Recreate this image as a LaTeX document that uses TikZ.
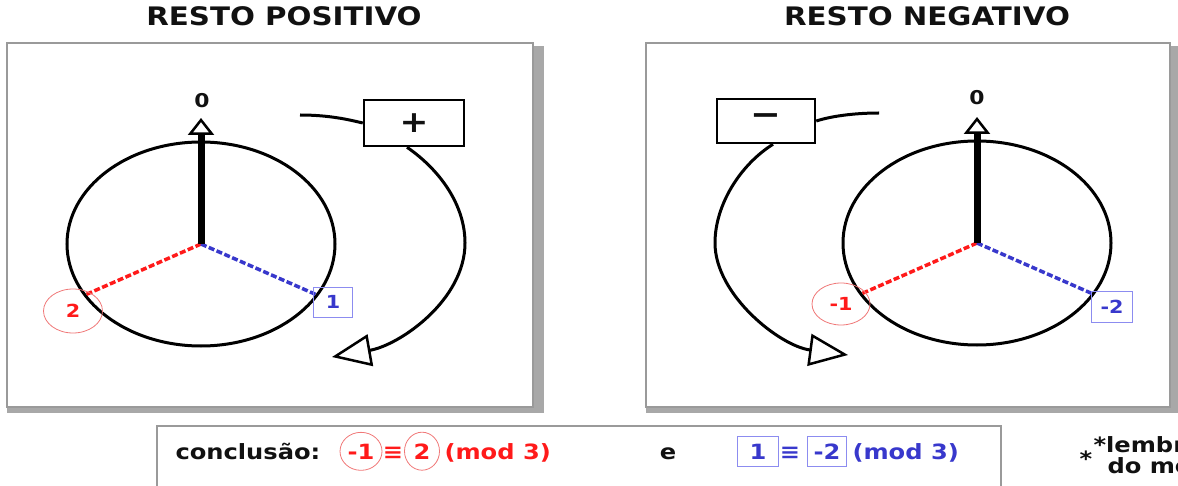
\documentclass[tikz,border=0pt]{standalone}
\usepackage{fontspec}
\newfontfamily\vfont[FakeStretch=1.15]{DejaVu Sans}
\usetikzlibrary{positioning, shapes.geometric, arrows.meta, calc}
\definecolor{rsred}{HTML}{FF1A1A}
\definecolor{rsredline}{HTML}{F07878}
\definecolor{rsblue}{HTML}{3838CC}
\definecolor{rsblueline}{HTML}{8C8CF0}
\definecolor{rsframe}{HTML}{9A9A9A}
\definecolor{rsshadow}{HTML}{A8A8A8}
\definecolor{rsink}{HTML}{111111}
\newcommand\fsz[1]{\fontsize{#1}{#1}\selectfont}

\begin{document}
\begin{tikzpicture}[x=1pt, y=-1pt, font=\vfont\bfseries, text=rsink,
    panel/.style={draw=rsframe, line width=1.2pt, fill=white},
    ring/.style={line width=3pt},
    hand/.style={line width=7pt, -{Triangle[open, length=17pt, width=26pt, line width=2.5pt]}},
    loopline/.style={line width=3pt, -{Triangle[open, length=39pt, width=32pt, line width=2.5pt]}},
    signbox/.style={draw, line width=2.5pt, minimum width=100pt, minimum height=46pt, inner sep=0pt},
    redspoke/.style={rsred, line width=3.5pt, dash pattern=on 6pt off 2.5pt},
    bluespoke/.style={rsblue, line width=3.5pt, dash pattern=on 6pt off 2.5pt},
    redtag/.style={ellipse, draw=rsredline, line width=0.8pt, text=rsred, inner sep=0pt},
    bluetag/.style={rectangle, draw=rsblueline, line width=0.8pt, text=rsblue, inner sep=0pt},
    lbl/.style={font=\vfont\bfseries\fsz{18}},
    conc/.style={font=\vfont\bfseries\fsz{21}}]
  \useasboundingbox (0,0) rectangle (1178,486);

  % panels
  \foreach \n/\xa/\xb in {pos/7/533, neg/646/1170}{
    \fill[rsshadow] (\xa,46) rectangle (\xb+11,413);
    \draw[panel] (\xa,43) rectangle (\xb,407);
  }
  \node[font=\vfont\bfseries\fsz{25.5}, anchor=base] (tpos) at (284,26) {RESTO POSITIVO};
  \node[font=\vfont\bfseries\fsz{25.5}, anchor=base] (tneg) at (927,26) {RESTO NEGATIVO};

  % resto positivo
  \coordinate (c1) at (201,244);
  \draw[ring] (c1) ellipse [x radius=134pt, y radius=102pt];
  \draw[redspoke] (c1) -- ++(210:134pt and 102pt) coordinate (r1);
  \draw[bluespoke] (c1) -- ++(330:134pt and 102pt) coordinate (b1);
  \coordinate (z1) at (201,118);
  \draw[hand] (c1) -- (z1);
  \node[font=\vfont\bfseries\fsz{19}, anchor=base] (zero1) at (202,108) {0};
  \node[redtag, lbl, minimum width=59pt, minimum height=44pt] (two) at (73,311) {2};
  \node[bluetag, lbl, minimum width=39pt, minimum height=30pt] (one) at (333,302) {1};
  \node[signbox] (plus) at (414,123) {\fsz{30}+};
  \coordinate (p0) at (300,115);
  \coordinate (p1) at (332,357);
  \draw[line width=3pt] (p0) .. controls (330,115) and (350,120) .. (plus.west);
  \draw[loopline] ([xshift=-7pt]plus.south) .. controls (440,170) and (465,205) .. (465,243)
    .. controls (465,300) and (400,345) .. (p1);

  % resto negativo
  \coordinate (c2) at (977,243);
  \draw[ring] (c2) ellipse [x radius=134pt, y radius=102pt];
  \draw[redspoke] (c2) -- ++(210:134pt and 102pt) coordinate (r2);
  \draw[bluespoke] (c2) -- ++(330:134pt and 102pt) coordinate (b2);
  \coordinate (z2) at (977,117);
  \draw[hand] (c2) -- (z2);
  \node[font=\vfont\bfseries\fsz{19}, anchor=base] (zero2) at (977,105) {0};
  \node[redtag, lbl, minimum width=58pt, minimum height=42pt] (mone) at (841,304) {-1};
  \node[bluetag, lbl, minimum width=41pt, minimum height=31pt] (mtwo) at (1112,307) {-2};
  \node[signbox, minimum width=98pt, minimum height=44pt] (minus) at (766,121) {\fsz{32}\raisebox{2pt}{−}};
  \coordinate (m0) at (879,113);
  \coordinate (m1) at (848,355);
  \draw[line width=3pt] (minus.east) .. controls (835,115) and (860,113) .. (m0);
  \draw[loopline] ([xshift=7pt]minus.south) .. controls (740,165) and (715,205) .. (715,243)
    .. controls (715,295) and (780,346) .. (m1);

  % conclusao
  \draw[rsframe, line width=1.2pt] (157,426) rectangle (1001,520);
  \node[conc, anchor=base west] (concl) at (172,459) {conclusão:};
  \node[redtag, conc, minimum width=42pt, minimum height=38pt, anchor=base] (cm1) at (361,459) {-1};
  \node[conc, text=rsred, anchor=base] (eq1) at (393,459) {≡};
  \node[redtag, conc, minimum width=35pt, minimum height=38pt, anchor=base] (cp2) at (422,459) {2};
  \node[conc, text=rsred, anchor=base west] (mod1) at (441,459) {(mod 3)};
  \node[conc, anchor=base] (ee) at (668,459) {e};
  \node[bluetag, conc, minimum width=41pt, minimum height=30pt, anchor=base] (cb1) at (758,459) {1};
  \node[conc, text=rsblue, anchor=base] (eq2) at (790,459) {≡};
  \node[bluetag, conc, minimum width=39pt, minimum height=30pt, anchor=base] (cbm2) at (827,459) {-2};
  \node[conc, text=rsblue, anchor=base west] (mod2) at (849,459) {(mod 3)};

  % nota
  \node[conc, anchor=base] (ast) at (1086,466) {*};
  \node[conc, anchor=base west] (note1) at (1090,452) {*lembr};
  \node[conc, anchor=base west] (note2) at (1104,473) {do mo};
\end{tikzpicture}
\end{document}
